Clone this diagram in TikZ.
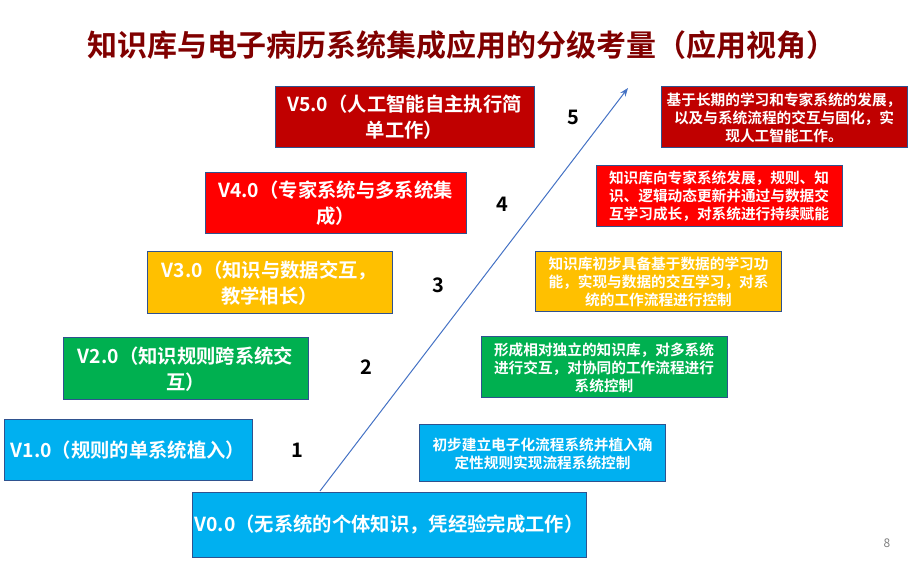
\documentclass[tikz,border=0pt]{standalone}
\usepackage{fontspec}
\setmainfont{Noto Sans CJK SC}[BoldFont={Noto Sans CJK SC Bold}]
\usepackage{tikz}
\usetikzlibrary{arrows.meta}

\definecolor{darkred}{HTML}{C00000}
\definecolor{brightred}{HTML}{FF0000}
\definecolor{amber}{HTML}{FFC000}
\definecolor{leaf}{HTML}{00B050}
\definecolor{sky}{HTML}{00B0F0}
\definecolor{edge}{HTML}{2F528F}
\definecolor{titlered}{HTML}{800000}
\definecolor{arrowblue}{HTML}{4472C4}

\tikzset{
  levelbox/.style={draw=edge,line width=0.75pt,fill=#1,text=white,align=center,
    inner sep=0pt,font=\fontsize{14.5}{19.5}\selectfont\bfseries},
  notebox/.style={draw=edge,line width=0.75pt,fill=#1,text=white,align=center,
    inner sep=0pt,minimum width=184.5pt,minimum height=45.75pt,
    font=\fontsize{11}{13.5}\selectfont\bfseries}
}

\begin{document}
\begin{tikzpicture}[>=Stealth,x=0.75pt,y=-0.75pt]
  \useasboundingbox (0,0) rectangle (918,566);
  % title
  \node[font=\fontsize{22.5}{27}\selectfont\bfseries,text=titlered] (title) at (462,45)
    {知识库与电子病历系统集成应用的分级考量（应用视角）};
  % left column: the levels
  \node[levelbox=darkred,minimum width=194.25pt,minimum height=45.75pt] (v5) at (404.5,117.5)
    {V5.0（人工智能自主执行简\\单工作）};
  \node[levelbox=brightred,minimum width=195.75pt,minimum height=45.75pt] (v4) at (335.5,203.5)
    {V4.0（专家系统与多系统集\\成）};
  \node[levelbox=amber,minimum width=183.75pt,minimum height=46.5pt] (v3) at (269.5,283)
    {V3.0（知识与数据交互，\\教学相长）};
  \node[levelbox=leaf,minimum width=183.75pt,minimum height=46.5pt] (v2) at (185.5,369)
    {V2.0（知识规则跨系统交\\互）};
  \node[levelbox=sky,minimum width=186pt,minimum height=45.75pt] (v1) at (128,450.5)
    {V1.0（规则的单系统植入）};
  \node[levelbox=sky,minimum width=295.5pt,minimum height=48pt] (v0) at (389,525)
    {V0.0（无系统的个体知识，凭经验完成工作）};
  % step numbers
  \foreach \i/\x/\y in {1/297/450,2/366/367,3/438/285,4/502/204,5/573/117}
    \node[font=\fontsize{15}{18}\selectfont\bfseries] (num\i) at (\x,\y) {\i};
  % rising arrow
  \coordinate (tail) at (320,491);
  \coordinate (head) at (628,88);
  \draw[->,arrowblue,line width=0.75pt] (tail) -- (head);
  % right column: what each level means
  \node[notebox=darkred] (d5) at (784,117.5)
    {基于长期的学习和专家系统的发展，\\以及与系统流程的交互与固化，实\\现人工智能工作。};
  \node[notebox=brightred] (d4) at (719,196.5)
    {知识库向专家系统发展，规则、知\\识、逻辑动态更新并通过与数据交\\互学习成长，对系统进行持续赋能};
  \node[notebox=amber,minimum height=45pt] (d3) at (658.5,282)
    {知识库初步具备基于数据的学习功\\能，实现与数据的交互学习，对系\\统的工作流程进行控制};
  \node[notebox=leaf] (d2) at (604,367.5)
    {形成相对独立的知识库，对多系统\\进行交互，对协同的工作流程进行\\系统控制};
  \node[notebox=sky,minimum height=42.75pt] (d1) at (542.5,453.5)
    {初步建立电子化流程系统并植入确\\定性规则实现流程系统控制};
  % page number
  \node[font=\fontsize{9}{10}\selectfont,text=gray] (page) at (887,543) {8};
\end{tikzpicture}
\end{document}
